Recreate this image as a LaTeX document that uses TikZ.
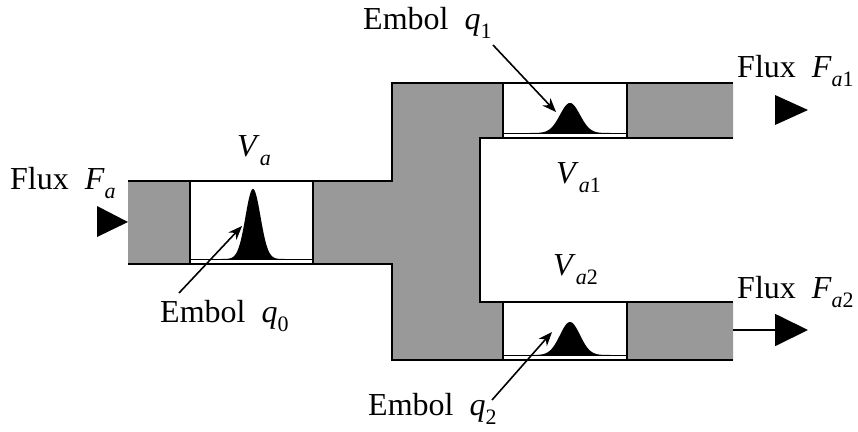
\documentclass[tikz,border=0pt]{standalone}
\usepackage{fontspec}
\setmainfont{Liberation Serif}
\usetikzlibrary{arrows.meta}
\newcommand{\sbs}[1]{\raisebox{-0.3em}{\fontsize{22}{22}\selectfont #1}}
\begin{document}
\begin{tikzpicture}[x=1pt,y=-1pt,
  lbl/.style={font=\fontsize{32}{38}\selectfont, anchor=base west, inner sep=0pt},
  wall/.style={line width=2.8pt},
  boxst/.style={draw, line width=2.4pt, fill=white},
  pipe/.style={fill=black!40},
  arr/.style={line width=1.6pt, -{Stealth[length=14pt,width=11pt]}},
  bigtri/.style={fill=black}]
\useasboundingbox (0,0) rectangle (858,431);
% gray pipe body
\fill[pipe] (128,181) -- (392,181) -- (392,83) -- (733,83) -- (733,138) -- (480,138)
  -- (480,302) -- (733,302) -- (733,360) -- (392,360) -- (392,264) -- (128,264) -- cycle;
\draw[wall] (128,181) -- (392,181) -- (392,83) -- (733,83);
\draw[wall] (733,138) -- (480,138) -- (480,302) -- (733,302);
\draw[wall] (733,360) -- (392,360) -- (392,264) -- (128,264);
% measurement boxes
\node[boxst, minimum width=123pt, minimum height=83pt, inner sep=0pt] (b0) at (251.5,222.5) {};
\node[boxst, minimum width=124pt, minimum height=55pt, inner sep=0pt] (b1) at (565,110.5) {};
\node[boxst, minimum width=124pt, minimum height=58pt, inner sep=0pt] (b2) at (565,331) {};
\draw[line width=1pt] (191,259) -- (312,259);
\draw[line width=1pt] (504,133) -- (626,133);
\draw[line width=1pt] (504,355) -- (626,355);
% boluses
\fill (215,259) -- plot[domain=215:291,samples=90,smooth] (\x,{259-70*exp(-0.5*((\x-253)/7.5)^2)}) -- (291,259) -- cycle;
\fill (530,133) -- plot[domain=530:610,samples=90,smooth] (\x,{133-30*exp(-0.5*((\x-570)/10)^2)}) -- (610,133) -- cycle;
\fill (530,355) -- plot[domain=530:610,samples=90,smooth] (\x,{355-33*exp(-0.5*((\x-570)/10)^2)}) -- (610,355) -- cycle;
% flux markers
\fill[bigtri] (97,206) -- (128,222) -- (97,237) -- cycle;
\fill[bigtri] (775,95) -- (808,110) -- (775,125) -- cycle;
\coordinate (o2) at (733,330);
\coordinate (f2) at (808,330);
\draw[line width=1.8pt, -{Triangle[length=33pt,width=32pt]}] (o2) -- (f2);
% labels
\node[lbl] (fa) at (10,189) {Flux\ \ \textit{F}\sbs{\textit{a}}};
\node[lbl] (va) at (237,156) {\textit{V}\sbs{\textit{a}}};
\node[lbl] (e0) at (160,322) {Embol\ \ \textit{q}\sbs{0}};
\node[lbl] (e1) at (363,29) {Embol\ \ \textit{q}\sbs{1}};
\node[lbl] (e2) at (368,415) {Embol\ \ \textit{q}\sbs{2}};
\node[lbl] (va1) at (556,183) {\textit{V}\sbs{\textit{a}1}};
\node[lbl] (va2) at (553,275) {\textit{V}\sbs{\textit{a}2}};
\node[lbl] (fa1) at (737,77) {Flux\ \ \textit{F}\sbs{\textit{a}1}};
\node[lbl] (fa2) at (737,298) {Flux\ \ \textit{F}\sbs{\textit{a}2}};
% bolus pointers
\coordinate (s0) at (179,293);
\coordinate (t0) at (242,226);
\coordinate (s1) at (493,45);
\coordinate (t1) at (556,112);
\coordinate (s2) at (492,400);
\coordinate (t2) at (552,332);
\draw[arr] (s0) -- (t0);
\draw[arr] (s1) -- (t1);
\draw[arr] (s2) -- (t2);
\end{tikzpicture}
\end{document}
